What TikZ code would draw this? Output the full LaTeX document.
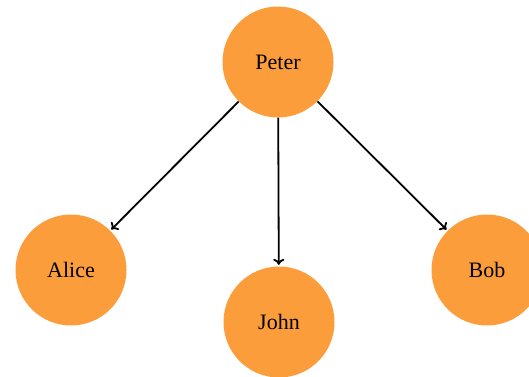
\documentclass[tikz,border=0pt]{standalone}
\usepackage{fontspec}
\setmainfont{Liberation Serif}
\usetikzlibrary{arrows.meta}
\definecolor{personOrange}{RGB}{252,157,59}
\begin{document}
\begin{tikzpicture}[x=1pt,y=1pt]
\tikzstyle{person}=[circle,fill=personOrange,minimum size=111pt,inner sep=0pt,font=\fontsize{22}{26}\selectfont]
\tikzstyle{link}=[-{To[length=6pt,width=11pt]},line width=1.8pt,shorten >=1.5pt]
\useasboundingbox (0,0) rectangle (529,-376);
%Root
\node[person] (peter) at (278,-62) {Peter};

%Children
\node[person] (alice) at (71,-270)  {Alice};
\node[person] (john)  at (279,-322) {John};
\node[person] (bob)   at (487,-270) {Bob};

% connections
\draw[link] (peter) -- (alice);
\draw[link] (peter) -- (john);
\draw[link] (peter) -- (bob);

\end{tikzpicture}
\end{document}
